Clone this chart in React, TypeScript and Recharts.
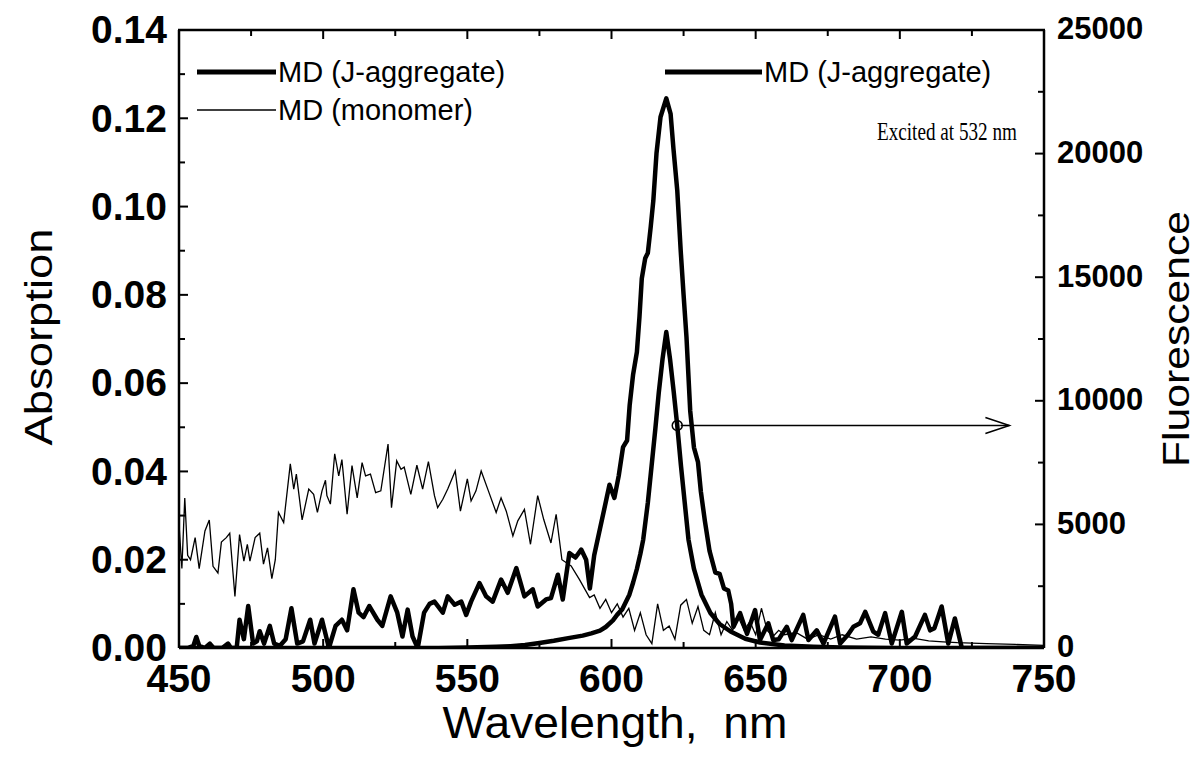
import React from "react";
import {
  LineChart,
  Line,
  XAxis,
  YAxis,
  ReferenceLine,
  ReferenceDot,
} from "recharts";

// absorption of the monomer (thin line), left axis
const monomerNm = [
  450, 451, 452, 453, 454, 455.6, 457, 459, 460.5, 461.8,
  463.5, 464.7, 466.4, 467.6, 469.4, 471, 472.5, 473.7, 474.6, 476.4,
  478, 479.3, 480.7, 482.2, 483.4, 484.5, 486.3, 488.6, 489.8, 490.7,
  492.7, 495, 496.7, 498, 499.6, 500.8, 501.3, 502.5, 504, 505.4,
  506.5, 508.3, 510, 511.8, 513.5, 514.7, 516.4, 518.2, 520, 522.5,
  523.7, 525.5, 527, 528.1, 530.4, 532.5, 534.5, 536.5, 538.6, 539.7,
  541.5, 543.2, 545.8, 547.6, 550, 551.3, 553, 554.8, 557.3, 560,
  561.7, 563.5, 565.8, 567.5, 569.8, 571.9, 574.4, 576.5, 579, 580.8,
  582.8, 586, 588.9, 592.4, 594, 596, 598, 600, 602, 604,
  606, 608, 610, 612, 614, 616, 618, 620, 622, 624,
  626, 628, 630, 632, 634, 636, 638, 640, 642, 644,
  646, 648, 650, 652, 654, 656, 658, 660, 664, 668,
  672, 676, 680, 685, 690, 695, 700, 705, 710, 715,
  720, 730, 740, 750,
];
const monomerAbs = [
  0.028, 0.018, 0.034, 0.021, 0.02, 0.025, 0.018, 0.0265, 0.029, 0.0185,
  0.017, 0.024, 0.025, 0.026, 0.0117, 0.0257, 0.0197, 0.0235, 0.0197, 0.025,
  0.026, 0.019, 0.0227, 0.0157, 0.02, 0.0307, 0.0284, 0.0417, 0.036, 0.0394,
  0.029, 0.036, 0.0348, 0.0307, 0.0356, 0.038, 0.0345, 0.0326, 0.044, 0.039,
  0.0427, 0.0303, 0.0413, 0.034, 0.042, 0.039, 0.0394, 0.0352, 0.0356, 0.0462,
  0.0318, 0.0424, 0.0405, 0.041, 0.0348, 0.0414, 0.036, 0.0422, 0.0345, 0.0318,
  0.0337, 0.036, 0.0401, 0.031, 0.0383, 0.0333, 0.0356, 0.0401, 0.0356, 0.0307,
  0.034, 0.031, 0.0254, 0.0288, 0.0314, 0.0235, 0.0345, 0.0291, 0.0238, 0.0303,
  0.02, 0.0186, 0.0155, 0.0114, 0.012, 0.009, 0.011, 0.008, 0.01, 0.007,
  0.009, 0.004, 0.008, 0.003, 0.001, 0.01, 0.004, 0.005, 0.002, 0.0097,
  0.011, 0.0056, 0.0094, 0.004, 0.003, 0.008, 0.003, 0.006, 0.004, 0.007,
  0.004, 0.006, 0.003, 0.009, 0.004, 0.0026, 0.004, 0.003, 0.0035, 0.002,
  0.003, 0.002, 0.003, 0.002, 0.0025, 0.002, 0.0018, 0.0022, 0.0016, 0.0014,
  0.0012, 0.001, 0.0008, 0.0006,
];

// absorption of the J-aggregate (thick line), left axis
const aggNm = [
  450, 453, 455, 456, 457, 459, 460.7, 462, 465, 467,
  468, 470, 471, 472.5, 474, 475.7, 477, 478, 479.5, 481.5,
  483, 485, 487, 489, 491, 493, 495.5, 497, 499.6, 502,
  504.3, 506.5, 508.3, 510.5, 512.3, 514, 516, 518.8, 520.5, 523.4,
  525.7, 527.5, 529.3, 531, 532.8, 535, 536.9, 538.6, 541.5, 543.2,
  545.6, 547.9, 549.6, 551.3, 554.2, 556.5, 558.8, 561.7, 564, 567,
  569.8, 572.7, 574.4, 577.3, 579, 581.4, 583.1, 585.4, 587.5, 589.5,
  591.2, 592.5, 594, 596, 598, 599.3, 601, 602.5, 604, 605.4,
  606.3, 607.5, 608.8, 609.7, 610.5, 611.7, 612.6, 613.6, 614.5, 615.6,
  617, 619, 620.5, 621.5, 622.8, 624, 625, 626, 627.3, 628.6,
  630, 631, 632.4, 634, 636, 637.5, 639, 640.5, 641.5, 642.3,
  644.6, 647, 649.8, 651.5, 654.4, 656.1, 658, 660.8, 662.5, 666.5,
  668.3, 671.2, 673.5, 677.5, 679.3, 682, 683.9, 686.2, 688, 690.8,
  692.5, 694.9, 697.2, 700.7, 702.4, 705.3, 708.7, 710.5, 712, 714.5,
  716.8, 719.1, 721.5, 730, 750,
];
const aggAbs = [
  0, 0, 0.0005, 0.0025, 0.0005, 0, 0.001, 0, 0, 0.001,
  0, 0, 0.0064, 0.002, 0.0095, 0.001, 0.0015, 0.0038, 0.001, 0.005,
  0.001, 0.0005, 0.002, 0.009, 0.001, 0.0015, 0.0064, 0.001, 0.0064, 0,
  0.005, 0.0064, 0.004, 0.0133, 0.008, 0.007, 0.0095, 0.0064, 0.005, 0.0117,
  0.008, 0.0026, 0.0087, 0.0026, 0, 0.008, 0.01, 0.0105, 0.008, 0.0117,
  0.0098, 0.0105, 0.0075, 0.0105, 0.0147, 0.0117, 0.0105, 0.0155, 0.0125, 0.0181,
  0.0117, 0.0133, 0.0094, 0.011, 0.0113, 0.0166, 0.011, 0.0215, 0.0205, 0.0223,
  0.02, 0.0135, 0.021, 0.027, 0.033, 0.037, 0.034, 0.039, 0.0455, 0.047,
  0.055, 0.062, 0.067, 0.075, 0.0837, 0.0883, 0.0895, 0.0954, 0.1013, 0.112,
  0.1203, 0.1245, 0.121, 0.113, 0.1037, 0.09, 0.08, 0.0705, 0.0537, 0.0454,
  0.0421, 0.0354, 0.0287, 0.022, 0.0171, 0.0168, 0.0135, 0.013, 0.01, 0.0048,
  0.0079, 0.0032, 0.0086, 0.0018, 0.0056, 0.0018, 0.002, 0.0048, 0.0018, 0.0075,
  0.0018, 0.004, 0.001, 0.0071, 0.001, 0.003, 0.0048, 0.0056, 0.0082, 0.0037,
  0.003, 0.0079, 0.001, 0.0082, 0.001, 0.0026, 0.0075, 0.004, 0.0045, 0.0094,
  0.001, 0.0067, 0, 0, 0,
];

// fluorescence of the J-aggregate (thick line), right axis
const fluorNm = [
  450, 530, 540, 550, 560, 565, 570, 575, 580, 585,
  590, 593, 596, 598, 600.5, 602, 603.7, 606.2, 607.5, 608.8,
  610, 611, 612.6, 613.9, 615.2, 616.4, 617.7, 619, 620.3, 621.6,
  622.8, 624.1, 625.4, 626.7, 628.6, 631.2, 634.3, 637.5, 641.3, 646.4,
  651.5, 660, 670, 680, 700, 750,
];
const fluorInt = [
  0, 0, 5, 20, 50, 70, 120, 200, 290, 400,
  500, 590, 700, 850, 1117, 1350, 1562, 2156, 2650, 3196,
  3800, 4386, 5874, 7362, 8860, 10335, 11690, 12783, 11690, 10335,
  9000, 7362, 5874, 4386, 3196, 2156, 1416, 971, 667, 372,
  223, 100, 50, 20, 0, 0,
];

const xTicks = [450, 475, 500, 525, 550, 575, 600, 625, 650, 675, 700, 725, 750];
const absTicks = [0, 0.01, 0.02, 0.03, 0.04, 0.05, 0.06, 0.07, 0.08, 0.09, 0.1, 0.11, 0.12, 0.13, 0.14];
const fluorTicks = [0, 2500, 5000, 7500, 10000, 12500, 15000, 17500, 20000, 22500, 25000];

const monomerData = monomerNm.map((nm, i) => ({ nm, v: monomerAbs[i] }));
const aggData = aggNm.map((nm, i) => ({ nm, v: aggAbs[i] }));
const fluorData = fluorNm.map((nm, i) => ({ nm, v: fluorInt[i] }));

const SANS = '"Liberation Sans", Arial, Helvetica, sans-serif';
const SERIF = '"Liberation Serif", "Times New Roman", serif';

const W = 1188;
const H = 741;
// plot box inside the chart
const PLOT_L = 171;
const PLOT_R = 1036;
const PLOT_T = 22;

function LeftTick(props: any) {
  const { x, y, payload } = props;
  const v = payload.value;
  const major = Math.round(v * 100) % 2 === 0;
  const ax = x + 12;
  return (
    <g>
      <line x1={ax} y1={y} x2={ax + (major ? 9 : 6)} y2={y} stroke="#000" strokeWidth={2} />
      {major && (
        <text x={x} y={y} dy="0.34em" textAnchor="end" fontSize={39} fontWeight="bold" fontFamily={SANS} fill="#000">
          {v.toFixed(2)}
        </text>
      )}
    </g>
  );
}

function RightTick(props: any) {
  const { x, y, payload } = props;
  const v = payload.value;
  const major = v % 5000 === 0;
  const ax = x - 13;
  return (
    <g>
      <line x1={ax} y1={y} x2={ax - (major ? 9 : 6)} y2={y} stroke="#000" strokeWidth={2} />
      {major && (
        <text x={x} y={y} dy="0.3em" textAnchor="start" fontSize={31} fontWeight="bold" fontFamily={SANS} fill="#000">
          {v}
        </text>
      )}
    </g>
  );
}

function BottomTick(props: any) {
  const { x, y, payload } = props;
  const v = payload.value;
  const major = v % 50 === 0;
  const ay = y - 16;
  return (
    <g>
      <line x1={x} y1={ay} x2={x} y2={ay - (major ? 9 : 6)} stroke="#000" strokeWidth={2} />
      {major && (
        <text x={x} y={y} dy="0.71em" textAnchor="middle" fontSize={39} fontWeight="bold" fontFamily={SANS} fill="#000">
          {v}
        </text>
      )}
    </g>
  );
}

function Arrow(props: any) {
  const { x1, y1, x2, y2 } = props;
  return (
    <g>
      <line x1={x1} y1={y1} x2={x2} y2={y2} stroke="#000" strokeWidth={1.5} />
      <polyline
        points={`${x2 - 24},${y2 - 8} ${x2},${y2} ${x2 - 24},${y2 + 8}`}
        fill="none"
        stroke="#000"
        strokeWidth={1.5}
      />
    </g>
  );
}

export default function App() {
  const xAt = (nm: number) => PLOT_L + ((nm - 450) / 300) * (PLOT_R - PLOT_L);
  return (
    <div style={{ position: "relative", width: W, height: H, background: "#fff" }}>
      <LineChart width={W} height={H} margin={{ top: PLOT_T, right: 0, bottom: 0, left: 0 }}>
        <XAxis
          type="number"
          dataKey="nm"
          domain={[450, 750]}
          ticks={xTicks}
          interval={0}
          height={101}
          tickSize={0}
          tickMargin={16}
          tick={<BottomTick />}
          axisLine={{ stroke: "#000", strokeWidth: 2.5 }}
          allowDataOverflow
        />
        <YAxis
          yAxisId="left"
          type="number"
          domain={[0, 0.14]}
          ticks={absTicks}
          interval={0}
          width={171}
          tickSize={0}
          tickMargin={12}
          tick={<LeftTick />}
          axisLine={{ stroke: "#000", strokeWidth: 2.5 }}
          allowDataOverflow
        />
        <YAxis
          yAxisId="right"
          orientation="right"
          type="number"
          domain={[0, 25000]}
          ticks={fluorTicks}
          interval={0}
          width={152}
          tickSize={0}
          tickMargin={13}
          tick={<RightTick />}
          axisLine={{ stroke: "#000", strokeWidth: 2.5 }}
          allowDataOverflow
        />
        <Line
          yAxisId="left"
          data={monomerData}
          dataKey="v"
          type="linear"
          stroke="#000"
          strokeWidth={1.3}
          dot={false}
          isAnimationActive={false}
        />
        <Line
          yAxisId="left"
          data={aggData}
          dataKey="v"
          type="linear"
          stroke="#000"
          strokeWidth={4.5}
          strokeLinejoin="round"
          dot={false}
          isAnimationActive={false}
        />
        <Line
          yAxisId="right"
          data={fluorData}
          dataKey="v"
          type="linear"
          stroke="#000"
          strokeWidth={4.5}
          strokeLinejoin="round"
          dot={false}
          isAnimationActive={false}
        />
        <ReferenceLine
          yAxisId="right"
          segment={[
            { x: 624, y: 9000 },
            { x: 738, y: 9000 },
          ]}
          shape={<Arrow />}
        />
        <ReferenceDot yAxisId="right" x={622.8} y={9000} r={5} fill="none" stroke="#000" strokeWidth={1.5} />
      </LineChart>

      <svg width={W} height={H} style={{ position: "absolute", left: 0, top: 0, pointerEvents: "none" }}>
        {/* top frame line with inward ticks */}
        <line x1={PLOT_L - 1} y1={PLOT_T} x2={PLOT_R + 1} y2={PLOT_T} stroke="#000" strokeWidth={2.5} />
        {xTicks.map((t) => (
          <line
            key={t}
            x1={xAt(t)}
            y1={PLOT_T}
            x2={xAt(t)}
            y2={PLOT_T + (t % 50 === 0 ? 9 : 6)}
            stroke="#000"
            strokeWidth={2}
          />
        ))}

        <text
          x={44}
          y={329}
          transform="rotate(-90 44 329)"
          textAnchor="middle"
          fontSize={38}
          fontFamily={SANS}
          textLength={217}
          lengthAdjust="spacingAndGlyphs"
        >
          Absorption
        </text>
        <text
          x={1181}
          y={331}
          transform="rotate(-90 1181 331)"
          textAnchor="middle"
          fontSize={36}
          fontFamily={SANS}
          textLength={256}
          lengthAdjust="spacingAndGlyphs"
        >
          Fluorescence
        </text>
        <text
          x={607}
          y={730}
          textAnchor="middle"
          fontSize={44}
          fontFamily={SANS}
          textLength={345}
          lengthAdjust="spacingAndGlyphs"
          style={{ whiteSpace: "pre" }}
        >
          {"Wavelength,  nm"}
        </text>

        <line x1={189} y1={64} x2={268} y2={64} stroke="#000" strokeWidth={5} />
        <text x={270} y={64} dominantBaseline="central" fontSize={29} fontFamily={SANS}>
          MD (J-aggregate)
        </text>
        <line x1={189} y1={102} x2={268} y2={102} stroke="#000" strokeWidth={1.3} />
        <text x={270} y={102} dominantBaseline="central" fontSize={29} fontFamily={SANS}>
          MD (monomer)
        </text>
        <line x1={657} y1={64} x2={754} y2={64} stroke="#000" strokeWidth={5} />
        <text x={756} y={64} dominantBaseline="central" fontSize={29} fontFamily={SANS}>
          MD (J-aggregate)
        </text>
        <text
          x={869}
          y={123}
          dominantBaseline="central"
          fontSize={26}
          fontFamily={SERIF}
          textLength={140}
          lengthAdjust="spacingAndGlyphs"
        >
          Excited at 532 nm
        </text>
      </svg>
    </div>
  );
}
